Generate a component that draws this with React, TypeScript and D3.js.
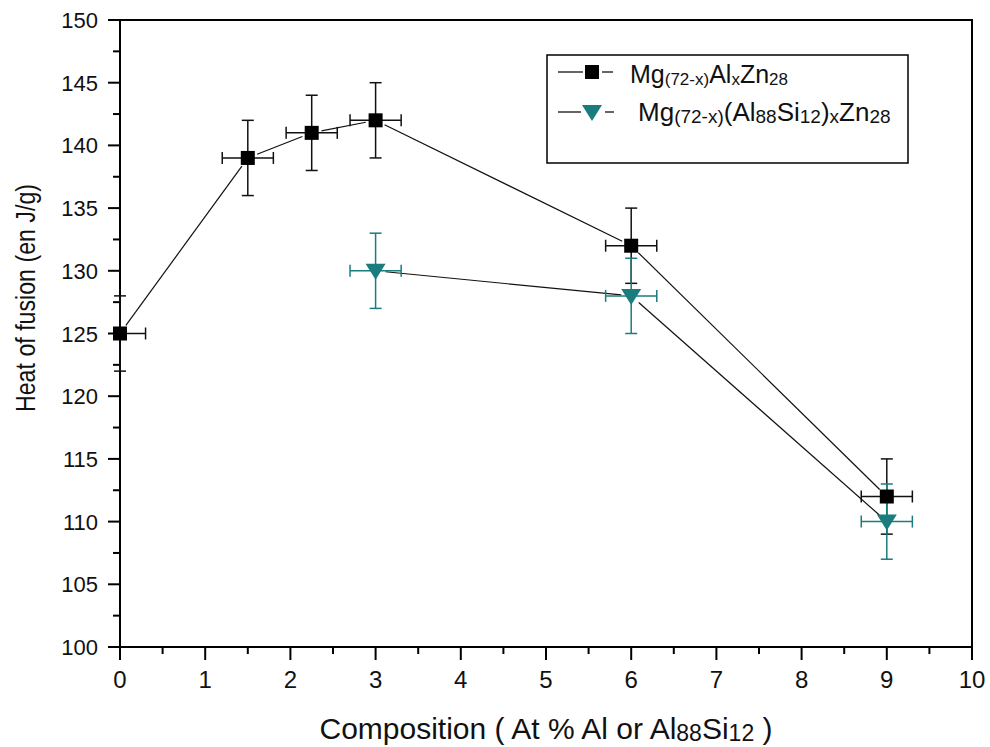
import React from "react";
import * as d3 from "d3";

const xTicks = [0, 1, 2, 3, 4, 5, 6, 7, 8, 9, 10];
const yTicks = [100, 105, 110, 115, 120, 125, 130, 135, 140, 145, 150];

const s1X = [0, 1.5, 2.25, 3, 6, 9];
const s1Y = [125, 139, 141, 142, 132, 112];
const s1Ey = [3, 3, 3, 3, 3, 3];
const s1Ex = [0.3, 0.3, 0.3, 0.3, 0.3, 0.3];

const s2X = [3, 6, 9];
const s2Y = [130, 128, 110];
const s2Ey = [3, 3, 3];
const s2Ex = [0.3, 0.3, 0.3];

const TEAL = "#1a7c7c";
const FONT = "'Liberation Sans', Arial, sans-serif";

const W = 990, H = 747;
const L = 120, R = 972, T = 20, B = 647;

export default function App() {
  const x = d3.scaleLinear().domain([0, 10]).range([L, R]);
  const y = d3.scaleLinear().domain([100, 150]).range([B, T]);

  const minorX = d3.range(0.5, 10, 1);
  const minorY = d3.range(102.5, 150, 5);

  const gapLines = (xs: number[], ys: number[], gap: number) => {
    const segs: JSX.Element[] = [];
    for (let i = 0; i < xs.length - 1; i++) {
      const x1 = x(xs[i]), y1 = y(ys[i]), x2 = x(xs[i + 1]), y2 = y(ys[i + 1]);
      const dx = x2 - x1, dy = y2 - y1;
      const len = Math.hypot(dx, dy);
      const ux = dx / len, uy = dy / len;
      segs.push(
        <line key={i} x1={x1 + ux * gap} y1={y1 + uy * gap} x2={x2 - ux * gap} y2={y2 - uy * gap}
          stroke="#111" strokeWidth={1.2} />
      );
    }
    return segs;
  };

  const errBars = (xs: number[], ys: number[], ex: number[], ey: number[], color: string) =>
    xs.map((v, i) => {
      const cx = x(v), cy = y(ys[i]);
      const xl = x(v - ex[i]), xr = x(v + ex[i]);
      const yt = y(ys[i] + ey[i]), yb = y(ys[i] - ey[i]);
      const c = 6;
      return (
        <g key={i} stroke={color} strokeWidth={1.5} fill="none">
          <line x1={cx} y1={yt} x2={cx} y2={yb} />
          <line x1={cx - c} y1={yt} x2={cx + c} y2={yt} />
          <line x1={cx - c} y1={yb} x2={cx + c} y2={yb} />
          <line x1={Math.max(xl, L)} y1={cy} x2={xr} y2={cy} />
          {v - ex[i] >= 0 && <line x1={xl} y1={cy - c} x2={xl} y2={cy + c} />}
          <line x1={xr} y1={cy - c} x2={xr} y2={cy + c} />
        </g>
      );
    });

  const sq = 14;
  const tri = (cx: number, cy: number) =>
    `M${cx - 10},${cy - 7} L${cx + 10},${cy - 7} L${cx},${cy + 9} Z`;

  return (
    <svg width={W} height={H} style={{ position: "absolute", left: 0, top: 0, background: "#fff" }}
      fontFamily={FONT}>
      <rect x={0} y={0} width={W} height={H} fill="#fff" />

      {/* frame */}
      <rect x={L} y={T} width={R - L} height={B - T} fill="none" stroke="#000" strokeWidth={2} />

      {/* y ticks */}
      {yTicks.map((t) => (
        <g key={t}>
          <line x1={L - 12} x2={L} y1={y(t)} y2={y(t)} stroke="#000" strokeWidth={2} />
          <text x={L - 22} y={y(t) + 8} textAnchor="end" fontSize={22} fill="#111">{t}</text>
        </g>
      ))}
      {minorY.map((t) => (
        <line key={t} x1={L - 7} x2={L} y1={y(t)} y2={y(t)} stroke="#000" strokeWidth={2} />
      ))}

      {/* x ticks */}
      {xTicks.map((t) => (
        <g key={t}>
          <line x1={x(t)} x2={x(t)} y1={B} y2={B + 13} stroke="#000" strokeWidth={2} />
          <text x={x(t)} y={B + 41} textAnchor="middle" fontSize={24} fill="#111">{t}</text>
        </g>
      ))}
      {minorX.map((t) => (
        <line key={t} x1={x(t)} x2={x(t)} y1={B} y2={B + 7} stroke="#000" strokeWidth={2} />
      ))}

      {/* axis titles */}
      <text x={(L + R) / 2} y={739} textAnchor="middle" fontSize={30} fill="#111">
        <tspan>Composition ( At % Al or Al</tspan>
        <tspan fontSize={23} dy={2}>88</tspan>
        <tspan dy={-2}>Si</tspan>
        <tspan fontSize={23} dy={2}>12</tspan>
        <tspan dy={-2}> )</tspan>
      </text>
      <text transform={`translate(35, 298) rotate(-90)`} textAnchor="middle" fontSize={28} fill="#111"
        textLength={228} lengthAdjust="spacingAndGlyphs">
        Heat of fusion (en J/g)
      </text>

      {/* series lines */}
      {gapLines(s1X, s1Y, 10)}
      {gapLines(s2X, s2Y, 10)}

      {/* error bars */}
      {errBars(s1X, s1Y, s1Ex, s1Ey, "#111")}
      {errBars(s2X, s2Y, s2Ex, s2Ey, TEAL)}

      {/* markers */}
      {s1X.map((v, i) => (
        <rect key={i} x={x(v) - sq / 2} y={y(s1Y[i]) - sq / 2} width={sq} height={sq} fill="#000" />
      ))}
      {s2X.map((v, i) => (
        <path key={i} d={tri(x(v), y(s2Y[i]))} fill={TEAL} />
      ))}

      {/* legend */}
      <rect x={547} y={55} width={361} height={108} fill="#fff" stroke="#000" strokeWidth={1.5} />
      <line x1={558} x2={583} y1={72} y2={72} stroke="#111" strokeWidth={1.3} />
      <line x1={602} x2={613} y1={72} y2={72} stroke="#111" strokeWidth={1.3} />
      <rect x={592 - 7} y={72 - 7} width={14} height={14} fill="#000" />
      <text x={630} y={83} fontSize={25} fill="#111">
        <tspan>Mg</tspan>
        <tspan fontSize={17} dy={2}>(72-x)</tspan>
        <tspan dy={-2}>Al</tspan>
        <tspan fontSize={17} dy={2}>x</tspan>
        <tspan dy={-2}>Zn</tspan>
        <tspan fontSize={17} dy={2}>28</tspan>
      </text>

      <line x1={558} x2={581} y1={112} y2={112} stroke="#111" strokeWidth={1.3} />
      <line x1={605} x2={614} y1={112} y2={112} stroke="#111" strokeWidth={1.3} />
      <path d={tri(592, 112)} fill={TEAL} />
      <text x={638} y={121} fontSize={26} fill="#111">
        <tspan>Mg</tspan>
        <tspan fontSize={19} dy={2}>(72-x)</tspan>
        <tspan dy={-2}>(Al</tspan>
        <tspan fontSize={19} dy={2}>88</tspan>
        <tspan dy={-2}>Si</tspan>
        <tspan fontSize={19} dy={2}>12</tspan>
        <tspan dy={-2}>)</tspan>
        <tspan fontSize={19} dy={2}>x</tspan>
        <tspan dy={-2}>Zn</tspan>
        <tspan fontSize={19} dy={2}>28</tspan>
      </text>
    </svg>
  );
}
